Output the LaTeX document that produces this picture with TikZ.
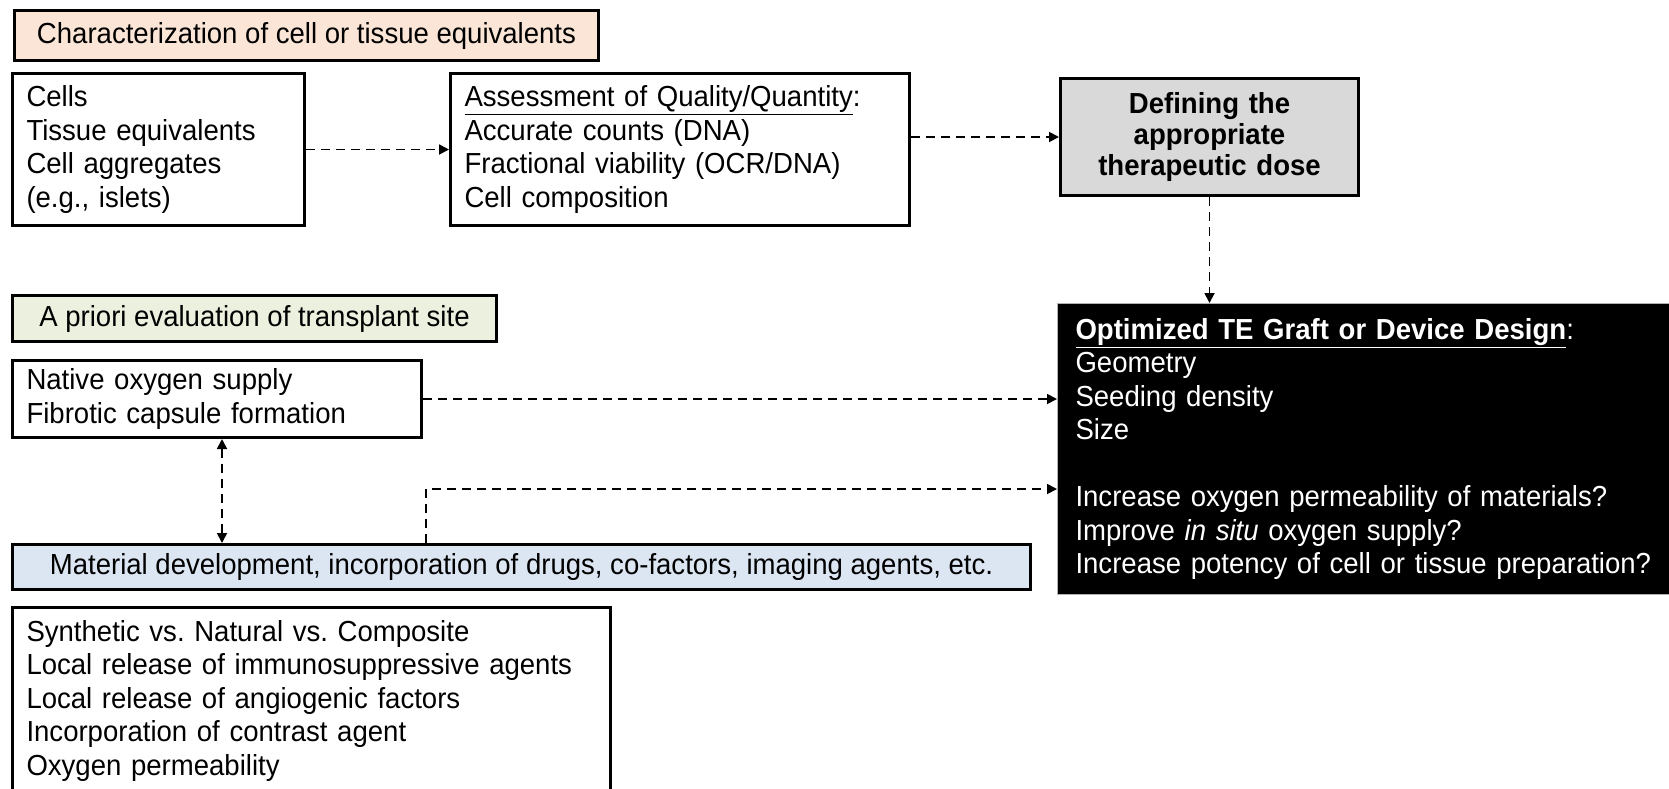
\documentclass[tikz,border=0pt]{standalone}
\usepackage{fontspec}
\setmainfont{Liberation Sans}[FakeStretch=0.95]
\usepackage{xcolor}
\usetikzlibrary{arrows.meta, positioning}
\definecolor{peach}{HTML}{FBE5D6}
\definecolor{sage}{HTML}{EBF1DE}
\definecolor{skyblue}{HTML}{DCE6F2}
\definecolor{greybox}{HTML}{D9D9D9}
\frenchspacing

\begin{document}
\begin{tikzpicture}[x=1pt, y=-1pt,
    every node/.style={font=\fontsize{29}{33.5}\selectfont, inner xsep=14pt, inner ysep=0pt},
    box/.style={draw, line width=3pt, anchor=north west, align=left},
    header/.style={box, align=center},
    link/.style={dash pattern=on 9pt off 6pt, line width=1.8pt, -{Triangle[length=10pt,width=10pt]}}]
    \useasboundingbox (0,0) rectangle (1669,788);
    \clip (0,0) rectangle (1669,788);

    % Characterization row
    \node[header, fill=peach, minimum width=584pt, minimum height=50pt] (charhead) at (13,9) {Characterization of cell or tissue equivalents};
    \node[box, text width=264pt, minimum height=152pt] (cells) at (11,72) {Cells\\Tissue equivalents\\Cell aggregates\\(e.g., islets)};
    \node[box, text width=431pt, minimum height=152pt] (assess) at (449,72) {\underline{Assessment of Quality/Quantity}:\\Accurate counts (DNA)\\Fractional viability (OCR/DNA)\\Cell composition};
    \node[box, align=center, fill=greybox, text width=270pt, minimum height=117pt,
          font=\fontsize{29}{31}\selectfont\bfseries] (dose) at (1059,77) {Defining the\\appropriate\\therapeutic dose};

    % Transplant site
    \node[header, fill=sage, minimum width=484pt, minimum height=46pt] (sitehead) at (11,294) {A priori evaluation of transplant site};
    \node[box, text width=381pt, minimum height=77pt] (native) at (11,359) {Native oxygen supply\\Fibrotic capsule formation};

    % Optimized design
    \node[box, line width=1pt, draw=gray!60, fill=black, text=white, inner xsep=18pt,
          text width=604pt, minimum height=291pt] (design) at (1057,303)
          {\textbf{\underline{Optimized TE Graft or Device Design}}:\\Geometry\\Seeding density\\Size\\[33.5pt]Increase oxygen permeability of materials?\\Improve \textit{in situ} oxygen supply?\\Increase potency of cell or tissue preparation?};

    % Materials
    \node[header, fill=skyblue, minimum width=1018pt, minimum height=45pt] (material) at (11,543) {Material development, incorporation of drugs, co-factors, imaging agents, etc.};
    \node[box, text width=570pt, minimum height=186pt] (options) at (11,606) {Synthetic vs. Natural vs. Composite\\Local release of immunosuppressive agents\\Local release of angiogenic factors\\Incorporation of contrast agent\\Oxygen permeability};

    % Connectors
    \coordinate (bend) at (426,489);
    \coordinate (dbl) at (222,0);
    \draw[link] (cells) -- (assess);
    \draw[link] (assess.east |- dose.west) -- (dose.west);
    \draw[link] (dose.south) -- (dose.south |- design.north);
    \draw[link] (native.east) -- (native.east -| design.west);
    \draw[link] (material.north -| bend) -- (bend) -- (bend -| design.west);
    \draw[link, {Triangle[length=10pt,width=10pt]}-{Triangle[length=10pt,width=10pt]}] (native.south -| dbl) -- (material.north -| dbl);
\end{tikzpicture}
\end{document}
